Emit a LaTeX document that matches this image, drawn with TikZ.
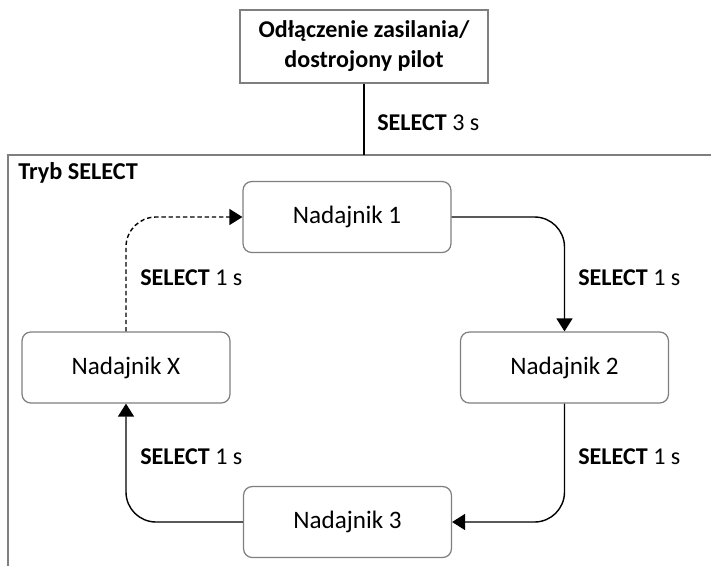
\documentclass[tikz,border=0pt]{standalone}
\usepackage{fontspec}
\setmainfont{Carlito}
\usepackage{tikz}
\usetikzlibrary{arrows.meta,positioning}
\definecolor{boxgray}{HTML}{7F7F7F}
\tikzset{
  header/.style={draw=boxgray,fill=white,align=center,minimum width=4.96cm,minimum height=1.46cm,line width=.7pt,font=\fontsize{13.7}{17}\selectfont\bfseries},
  sender/.style={draw=boxgray,rounded corners=5pt,fill=white,minimum width=4.16cm,minimum height=1.42cm,line width=.7pt,font=\fontsize{14.3}{16}\selectfont},
  flow/.style={-{Triangle[length=2.6mm,width=3.2mm]},line width=.8pt,rounded corners=.6cm},
  steplabel/.style={anchor=west,inner sep=0pt,font=\fontsize{13.7}{16}\selectfont},
}

\begin{document}
\begin{tikzpicture}[x=0.02cm,y=-0.02cm]
    \useasboundingbox (0,0) rectangle (711,566);
    % frame of the mode
    \draw[boxgray,line width=.8pt] (711,155) -- (8,155) -- (8,566);
    \node[steplabel,font=\fontsize{13.8}{16}\selectfont\bfseries] (mode) at (18,173) {Tryb SELECT};
    \node[header] (power) at (364,46.5) {Odłączenie zasilania/\\dostrojony pilot};
    \coordinate (frametop) at (364,155);
    \draw[line width=.8pt] (power) -- (frametop);
    \node[steplabel] (hold) at (377,123) {\textbf{SELECT} 3 s};
    % transmitters
    \node[sender] (n1) at (347,217) {Nadajnik 1};
    \node[sender] (n2) at (564.5,367.5) {Nadajnik 2};
    \node[sender] (n3) at (347.5,522) {Nadajnik 3};
    \node[sender] (nx) at (126,367.5) {Nadajnik X};
    \draw[flow] (n1.east) -| (n2.north);
    \draw[flow] (n2.south) |- (n3.east);
    \draw[flow] (n3.west) -| (nx.south);
    \draw[flow,dash pattern=on 2.5pt off 1.6pt] (nx.north) |- (n1.west);
    \foreach \k/\xx/\yy in {a/578/278,b/578/457,c/140/278,d/140/457}{
      \node[steplabel] (press\k) at (\xx,\yy) {\textbf{SELECT} 1 s};
    }
\end{tikzpicture}
\end{document}
